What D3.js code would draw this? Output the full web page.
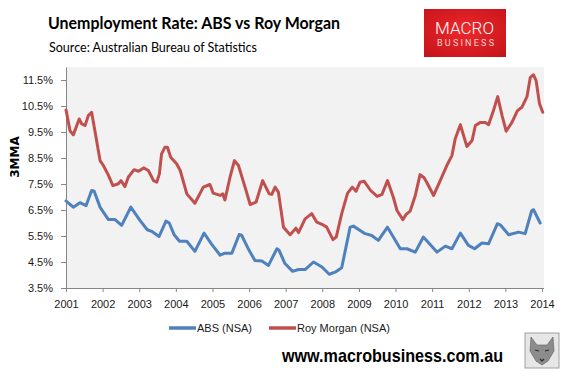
<!DOCTYPE html>
<html>
<head>
<meta charset="utf-8">
<script src="https://cdn.jsdelivr.net/npm/d3@7"></script>
<style>
    body { margin: 0; background: #fff; }
    svg { display: block; }
</style>
</head>
<body>
<div id="chart"></div>
<script>
// year ticks on the x axis
var years = [2001, 2002, 2003, 2004, 2005, 2006, 2007, 2008, 2009, 2010, 2011, 2012, 2013, 2014];
// y ticks (percent)
var yTicks = [3.5, 4.5, 5.5, 6.5, 7.5, 8.5, 9.5, 10.5, 11.5];

// ABS (NSA), 3 month moving average
var absDates = [2001.00, 2001.08, 2001.20, 2001.38, 2001.55, 2001.70, 2001.77, 2001.93, 2002.02, 2002.16,
    2002.34, 2002.52, 2002.77, 2003.02, 2003.22, 2003.34, 2003.54, 2003.73, 2003.82, 2003.95,
    2004.10, 2004.30, 2004.52, 2004.77, 2004.98, 2005.21, 2005.34, 2005.53, 2005.73, 2005.80,
    2006.00, 2006.16, 2006.35, 2006.53, 2006.76, 2006.82, 2006.98, 2007.19, 2007.35, 2007.53,
    2007.76, 2007.99, 2008.19, 2008.35, 2008.53, 2008.76, 2008.85, 2009.17, 2009.35, 2009.53,
    2009.78, 2009.94, 2010.13, 2010.31, 2010.54, 2010.76, 2011.13, 2011.36, 2011.54, 2011.77,
    2011.99, 2012.16, 2012.36, 2012.54, 2012.78, 2012.86, 2013.09, 2013.36, 2013.54, 2013.72,
    2013.77, 2013.95];
var absValues = [6.85, 6.75, 6.61, 6.78, 6.67, 7.25, 7.22, 6.61, 6.42, 6.13,
    6.13, 5.91, 6.61, 6.10, 5.74, 5.68, 5.48, 6.07, 6.00, 5.56,
    5.30, 5.30, 4.91, 5.61, 5.18, 4.76, 4.84, 4.84, 5.56, 5.52,
    4.95, 4.56, 4.54, 4.37, 5.01, 4.95, 4.44, 4.14, 4.21, 4.21,
    4.50, 4.31, 4.03, 4.11, 4.28, 5.84, 5.88, 5.59, 5.52, 5.33,
    5.84, 5.46, 5.01, 5.01, 4.88, 5.46, 4.88, 5.11, 5.01, 5.61,
    5.14, 5.01, 5.23, 5.20, 5.97, 5.93, 5.55, 5.65, 5.59, 6.48,
    6.51, 6.00];

// Roy Morgan (NSA)
var rmDates = [2001.00, 2001.11, 2001.20, 2001.36, 2001.43, 2001.52, 2001.61, 2001.70, 2001.82, 2001.93,
    2002.02, 2002.16, 2002.28, 2002.43, 2002.50, 2002.61, 2002.70, 2002.86, 2002.98, 2003.12,
    2003.25, 2003.39, 2003.48, 2003.55, 2003.61, 2003.70, 2003.77, 2003.86, 2004.02, 2004.12,
    2004.30, 2004.52, 2004.75, 2004.93, 2005.02, 2005.21, 2005.28, 2005.34, 2005.48, 2005.60,
    2005.71, 2005.89, 2006.03, 2006.19, 2006.37, 2006.55, 2006.62, 2006.71, 2006.80, 2006.94,
    2007.12, 2007.28, 2007.35, 2007.53, 2007.71, 2007.85, 2007.99, 2008.12, 2008.29, 2008.38,
    2008.53, 2008.69, 2008.82, 2008.92, 2009.03, 2009.14, 2009.32, 2009.50, 2009.63, 2009.78,
    2009.94, 2010.04, 2010.20, 2010.29, 2010.40, 2010.54, 2010.67, 2010.78, 2010.85, 2011.04,
    2011.22, 2011.40, 2011.54, 2011.63, 2011.77, 2011.95, 2012.09, 2012.18, 2012.32, 2012.45,
    2012.54, 2012.68, 2012.79, 2012.91, 2013.02, 2013.18, 2013.33, 2013.45, 2013.59, 2013.68,
    2013.77, 2013.84, 2013.93, 2014.02];
var rmValues = [10.35, 9.55, 9.39, 10.00, 9.81, 9.75, 10.13, 10.26, 9.30, 8.40,
    8.21, 7.83, 7.44, 7.51, 7.63, 7.40, 7.76, 8.05, 7.99, 8.12,
    8.02, 7.63, 7.57, 7.89, 8.66, 8.91, 8.91, 8.53, 8.28, 8.02,
    7.12, 6.76, 7.38, 7.48, 7.15, 7.06, 7.12, 6.89, 7.76, 8.40,
    8.21, 7.38, 6.71, 6.80, 7.63, 7.12, 7.10, 7.38, 7.19, 5.84,
    5.55, 5.80, 5.63, 6.16, 6.36, 6.03, 5.95, 5.84, 5.36, 5.46,
    6.36, 7.15, 7.38, 7.22, 7.57, 7.61, 7.25, 7.02, 7.10, 7.63,
    6.99, 6.48, 6.13, 6.33, 6.46, 7.06, 7.86, 7.74, 7.57, 7.06,
    7.63, 8.21, 8.59, 9.24, 9.78, 8.94, 9.17, 9.75, 9.87, 9.87,
    9.78, 10.35, 10.86, 10.13, 9.53, 9.87, 10.32, 10.45, 10.86, 11.60,
    11.70, 11.47, 10.60, 10.26];

var seriesNames = ['ABS (NSA)', 'Roy Morgan (NSA)'];
var seriesColors = ['#4f81bd', '#c0504d'];

var W = 568, H = 376;
var margin = { top: 67, right: 24, bottom: 88, left: 66 },
    width = W - margin.left - margin.right,
    height = H - margin.top - margin.bottom;

var svg = d3.select('#chart').append('svg')
    .attr('width', W)
    .attr('height', H);

// logo gradient
var defs = svg.append('defs');
var grad = defs.append('radialGradient').attr('id', 'logoGrad')
    .attr('cx', '50%').attr('cy', '45%').attr('r', '70%');
grad.append('stop').attr('offset', '0%').attr('stop-color', '#f0272b');
grad.append('stop').attr('offset', '100%').attr('stop-color', '#c4151b');

// title + source
svg.append('text')
    .attr('x', 48).attr('y', 29)
    .attr('font-family', 'Lato, sans-serif')
    .attr('font-weight', 'bold')
    .attr('font-size', '17px')
    .attr('textLength', 292).attr('lengthAdjust', 'spacingAndGlyphs')
    .text('Unemployment Rate: ABS vs Roy Morgan');
svg.append('text')
    .attr('x', 49).attr('y', 52)
    .attr('font-family', 'Lato, sans-serif')
    .attr('font-size', '14px')
    .attr('textLength', 208).attr('lengthAdjust', 'spacingAndGlyphs')
    .text('Source: Australian Bureau of Statistics');

// MACRO BUSINESS logo
var logo = svg.append('g');
logo.append('rect')
    .attr('x', 424).attr('y', 9).attr('width', 82).attr('height', 48)
    .attr('fill', 'url(#logoGrad)');
logo.append('text')
    .attr('x', 435).attr('y', 33.5)
    .attr('font-family', 'Roboto, sans-serif')
    .attr('font-weight', 300)
    .attr('font-size', '16px')
    .attr('fill', '#fff')
    .attr('textLength', 59).attr('lengthAdjust', 'spacingAndGlyphs')
    .text('MACRO');
logo.append('text')
    .attr('x', 437).attr('y', 46)
    .attr('font-family', 'Roboto, sans-serif')
    .attr('font-size', '9px')
    .attr('fill', '#f7d4d4')
    .attr('textLength', 57).attr('lengthAdjust', 'spacing')
    .text('BUSINESS');

var g = svg.append('g')
    .attr('transform', 'translate(' + margin.left + ',' + margin.top + ')');

// scales
var x = d3.scaleLinear()
    .domain([2001, 2014])
    .range([0, 476]);
var y = d3.scaleLinear()
    .domain([3.5, 12])
    .range([height, 0]);

// plot background
g.append('rect')
    .attr('width', width).attr('height', height)
    .attr('fill', '#f2f2f2');

// x axis
var xAxis = g.append('g')
    .attr('transform', 'translate(0,' + height + ')')
    .call(d3.axisBottom(x).tickValues(years).tickFormat(d3.format('d')).tickSize(4).tickPadding(8).tickSizeOuter(0));
xAxis.select('.domain').attr('d', 'M0,0.5H' + width).attr('stroke', '#868686');
xAxis.selectAll('.tick line').attr('stroke', '#868686');
xAxis.selectAll('text')
    .attr('font-family', 'Liberation Sans, Arial, sans-serif')
    .attr('font-size', '11px')
    .attr('fill', '#1a1a1a');

// y axis
var yAxis = g.append('g')
    .call(d3.axisLeft(y).tickValues(yTicks).tickFormat(function(d) { return d.toFixed(1) + '%'; }).tickSize(5).tickPadding(8).tickSizeOuter(0));
yAxis.select('.domain').attr('stroke', '#868686');
yAxis.selectAll('.tick line').attr('stroke', '#868686');
yAxis.selectAll('text')
    .attr('font-family', 'Liberation Sans, Arial, sans-serif')
    .attr('font-size', '11px')
    .attr('fill', '#1a1a1a');

// y axis title
svg.append('text')
    .attr('transform', 'translate(19,157) rotate(-90)')
    .attr('text-anchor', 'middle')
    .attr('font-family', 'DejaVu Sans, sans-serif')
    .attr('font-weight', 'bold')
    .attr('font-size', '12px')
    .text('3MMA');

// lines
var line = d3.line()
    .x(function(d) { return x(d[0]); })
    .y(function(d) { return y(d[1]); });

var series = [d3.zip(absDates, absValues), d3.zip(rmDates, rmValues)];
g.selectAll('path.series')
    .data(series)
    .enter().append('path')
    .attr('class', 'series')
    .attr('d', line)
    .attr('fill', 'none')
    .attr('stroke', function(d, i) { return seriesColors[i]; })
    .attr('stroke-width', 3)
    .attr('stroke-linejoin', 'round')
    .attr('stroke-linecap', 'round');

// legend
var legendX = [169, 269];
var legend = svg.selectAll('g.legend')
    .data(seriesNames)
    .enter().append('g')
    .attr('class', 'legend')
    .attr('transform', function(d, i) { return 'translate(' + legendX[i] + ',328)'; });
legend.append('line')
    .attr('x1', 0).attr('x2', 27)
    .attr('stroke', function(d, i) { return seriesColors[i]; })
    .attr('stroke-width', 3.5);
legend.append('text')
    .attr('x', 28).attr('y', 4)
    .attr('font-family', 'Liberation Sans, Arial, sans-serif')
    .attr('font-size', '11px')
    .attr('fill', '#1a1a1a')
    .text(function(d) { return d; });

// footer
svg.append('text')
    .attr('x', 282).attr('y', 362)
    .attr('font-family', 'Liberation Sans, Arial, sans-serif')
    .attr('font-weight', 'bold')
    .attr('font-size', '19px')
    .attr('textLength', 221).attr('lengthAdjust', 'spacingAndGlyphs')
    .text('www.macrobusiness.com.au');

// wolf badge
var badge = svg.append('g').attr('transform', 'translate(525,333)');
badge.append('rect')
    .attr('width', 34).attr('height', 35)
    .attr('fill', '#e6e6e6')
    .attr('stroke', '#a0a0a0');
badge.append('path')
    .attr('d', 'M6,4 L12,12 L22,12 L28,4 L29,18 L23,28 L17,32 L11,28 L5,18 Z')
    .attr('fill', '#8c8c8c')
    .attr('stroke', '#5a5a5a')
    .attr('stroke-width', 0.6);
badge.append('path')
    .attr('d', 'M10,17 L14,18 M20,18 L24,17 M15,26 L17,28 L19,26')
    .attr('stroke', '#2b2b2b')
    .attr('fill', 'none')
    .attr('stroke-width', 1.2);
</script>
</body>
</html>
